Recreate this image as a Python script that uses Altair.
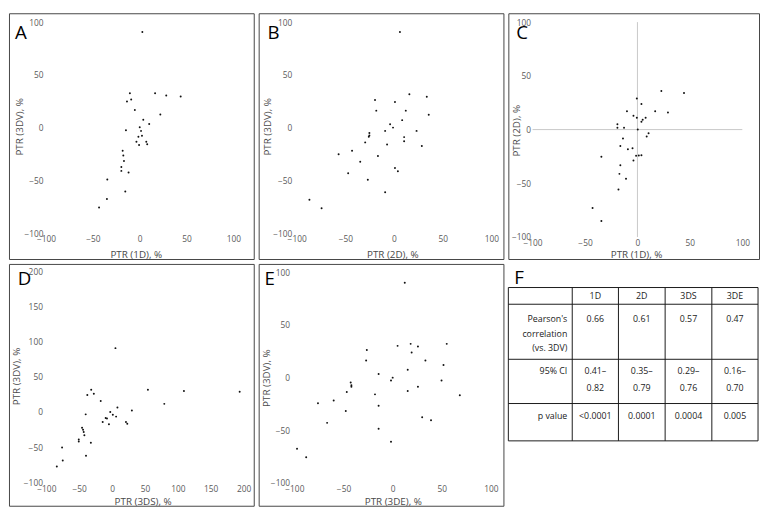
import altair as alt
import pandas as pd

# ---------------- data ----------------
# Panel A: PTR (1D) vs PTR (3DV)
a_x = [2.8, -10.5, 16.4, 28.3, 43.7, -9.1, -13.6, -5.2, 22.0, 3.8, 10.1, -14.7, 0.0, 1.4, -1.4,
       2.4, -3.5, -0.7, 7.0, 8.0, -18.2, -17.5, -16.8, -19.6, -19.6, -11.9, -34.6, -15.4, -35.0, -43.4]
a_y = [90.7, 32.6, 32.6, 30.4, 29.5, 26.7, 24.8, 16.8, 12.4, 7.5, 3.4, -2.5, 0.3, -3.1, -8.7,
       -7.8, -13.4, -16.5, -13.4, -15.8, -22.0, -26.4, -31.7, -37.3, -41.0, -42.5, -49.1, -60.6, -67.7, -75.8]

# Panel B: PTR (2D) vs PTR (3DV)
b_x = [6.1, 15.8, 33.7, -19.5, 1.0, -18.2, 12.1, 35.7, 8.4, -4.0, -1.0, -9.1, 23.2, -25.3, -25.3, -25.9,
       10.4, 10.4, -29.6, -7.1, 28.6, -56.9, -43.1, -16.5, -34.7, 1.0, 4.0, -47.1, -26.9, -9.1, -86.9, -74.4]
b_y = [90.7, 31.7, 29.2, 26.1, 24.2, 16.1, 16.1, 12.1, 7.1, 3.1, 0.0, -3.1, -3.1, -5.0, -7.5, -8.7,
       -9.0, -13.0, -14.0, -16.1, -17.4, -25.2, -22.0, -27.0, -32.3, -38.2, -41.3, -43.2, -49.4, -61.2, -68.3, -76.4]

# Panel C: PTR (1D) vs PTR (2D)
c_x = [22.8, 44.4, -0.6, 3.8, -10.0, 16.9, 29.1, -3.8, 7.8, -0.6, 5.0, 3.8, -19.1, -19.1, -12.8, 0.3, 10.6,
       8.8, -13.8, -16.3, -4.7, -9.1, 3.8, -1.3, 1.3, -34.4, -3.8, -16.3, -17.2, -10.9, -18.1, -42.8, -34.4]
c_y = [36.0, 34.1, 29.0, 23.8, 17.1, 17.1, 15.9, 12.8, 11.0, 11.0, 9.1, 7.3, 4.9, 1.8, 1.8, 0.0, -3.4,
       -6.4, -8.2, -15.2, -17.4, -18.3, -23.8, -24.4, -24.1, -25.3, -28.7, -33.2, -41.2, -45.7, -55.8, -72.9, -85.1]

# Panel D: PTR (3DS) vs PTR (3DV)
d_x = [5.1, 54.5, 109.3, 194.1, -31.8, -27.8, -37.7, -17.3, 79.4, 8.1, 30.1, -2.8, -40.2, 1.1, 6.1, -9.8,
       -7.8, 21.1, -14.3, -4.8, 23.1, -45.7, -44.2, -43.2, -42.2, -50.7, -50.7, -32.3, -76.1, -39.7, -75.1, -84.1]
d_y = [90.7, 31.6, 29.8, 28.8, 31.6, 26.0, 24.2, 15.8, 11.6, 6.5, 2.3, 0.0, -3.3, -3.7, -6.5, -8.4,
       -9.3, -14.0, -14.0, -17.2, -16.7, -22.3, -25.1, -28.4, -33.0, -39.1, -41.9, -43.7, -50.2, -61.9, -68.8, -77.2]

# Panel E: PTR (3DE) vs PTR (3DV)
e_x = [12.3, 5.0, 18.3, 25.7, 55.0, -26.3, 19.3, -27.0, 33.3, 51.7, 15.3, -14.3, 0.0, -1.7, 49.7, -42.7, -42.0,
       -42.0, 25.7, 15.3, -46.7, -18.0, 68.3, -76.0, -60.0, -14.3, -47.7, 30.0, 39.0, -66.7, -14.3, -1.7, -97.3, -88.0]
e_y = [90.3, 30.2, 32.1, 29.6, 32.1, 26.2, 24.0, 16.2, 16.2, 12.1, 7.5, 3.4, 0.0, -2.8, -2.8, -4.7, -7.2,
       -8.7, -8.7, -12.8, -13.7, -15.9, -16.8, -24.3, -21.8, -26.8, -31.8, -37.7, -40.5, -43.0, -48.6, -61.0, -67.6, -75.7]

ticks_100 = [-100, -50, 0, 50, 100]
ticks_200 = [-100, -50, 0, 50, 100, 150, 200]

# Panel F: table
table_cols = ["1D", "2D", "3DS", "3DE"]
pearson_r = ["0.66", "0.61", "0.57", "0.47"]
ci_low = ["0.41\u2013", "0.35\u2013", "0.29\u2013", "0.16\u2013"]
ci_high = ["0.82", "0.79", "0.76", "0.70"]
p_values = ["<0.0001", "0.0001", "0.0004", "0.005"]
row_labels = [["Pearson's", "correlation", "(vs. 3DV)"], ["95% CI"], ["p value"]]

# ---------------- styling / layout ----------------
FONT = "Open Sans"
DOT = "#111111"
GUIDE = "#c8c8c8"
LETTER_SIZE = 19

W1, W3 = 249, 255
H1, H2 = 250, 246


def letter_layer(letter, lx, ly):
    return alt.Chart(pd.DataFrame({"t": [letter]})).mark_text(
        align="left", baseline="alphabetic", font=FONT, fontSize=LETTER_SIZE, color="#000000"
    ).encode(x=alt.value(lx), y=alt.value(ly), text="t:N")


def scatter_panel(xv, yv, letter, xtitle, ytitle, W, H, x0, xs, y0, ys, xticks, yticks,
                  ypad, xtitle_pos, ytitle_pos, letter_pos, guides=False):
    xdom = [-x0 / xs, (W - x0) / xs]
    ydom = [(y0 - H) / ys, y0 / ys]
    x_axis_px = y0 + 100 * ys
    y_axis_px = x0 - 100 * xs
    xscale = alt.Scale(domain=xdom, nice=False, zero=False)
    yscale = alt.Scale(domain=ydom, nice=False, zero=False)
    xaxis = alt.Axis(values=xticks, offset=x_axis_px - H, labelPadding=2, title=xtitle,
                     titleX=xtitle_pos[0], titleY=xtitle_pos[1] - x_axis_px, titleBaseline="middle")
    yaxis = alt.Axis(values=yticks, offset=-y_axis_px, labelPadding=ypad, title=ytitle,
                     titleX=ytitle_pos[0] - y_axis_px, titleY=ytitle_pos[1], titleBaseline="middle")
    df = pd.DataFrame({"x": xv, "y": yv})
    pts = alt.Chart(df).mark_circle(size=4, color=DOT, opacity=1).encode(
        x=alt.X("x:Q", scale=xscale, axis=xaxis),
        y=alt.Y("y:Q", scale=yscale, axis=yaxis),
    )
    layers = []
    if guides:
        gdf = pd.DataFrame({"x": [0, -100], "x2": [0, 100], "y": [-100, 0], "y2": [100, 0]})
        rules = alt.Chart(gdf).mark_rule(color=GUIDE, strokeWidth=1).encode(
            x=alt.X("x:Q", scale=xscale, axis=xaxis), x2="x2:Q",
            y=alt.Y("y:Q", scale=yscale, axis=yaxis), y2="y2:Q",
        )
        layers.append(rules)
    layers.append(pts)
    layers.append(letter_layer(letter, *letter_pos))
    return alt.layer(*layers).properties(width=W, height=H)


pA = scatter_panel(a_x, a_y, "A", "PTR (1D), %", "PTR (3DV), %", W1, H1,
                   133.0, 0.9533, 116.33, 1.0733, ticks_100, ticks_100, 3,
                   (129, 245), (10.7, 115), (6, 26))
pB = scatter_panel(b_x, b_y, "B", "PTR (2D), %", "PTR (3DV), %", W1, H1,
                   137.67, 0.99, 116.33, 1.0733, ticks_100, ticks_100, 5,
                   (136, 245), (9.3, 115), (9, 26))
pC = scatter_panel(c_x, c_y, "C", "PTR (1D), %", "PTR (2D), %", W3, H1,
                   131.33, 1.0667, 118.33, 1.0933, ticks_100, ticks_100, 2,
                   (130, 245), (8, 119), (8, 26.5), guides=True)
pD = scatter_panel(d_x, d_y, "D", "PTR (3DS), %", "PTR (3DV), %", W1, H2,
                   104.9, 0.6686, 150.67, 0.7167, ticks_200, ticks_200, 4,
                   (136, 242), (7.3, 114), (9, 21))
pE = scatter_panel(e_x, e_y, "E", "PTR (3DE), %", "PTR (3DV), %", W1, H2,
                   136.33, 1.0, 115.67, 1.07, ticks_100, ticks_100, 5,
                   (136.5, 242), (7.7, 115.7), (6, 21))

# ---------------- table panel F ----------------
col_edges = [0, 65, 112, 159.5, 207, 254]
row_edges = [24, 41, 97, 142, 180]
label_right = 60
header_y = 33
pearson_y = [56, 71, 86]
ci_y = [109, 126]
p_y = 155

xs_t = alt.Scale(domain=[0, W3], nice=False, zero=False)
ys_t = alt.Scale(domain=[0, H2], nice=False, zero=False, reverse=True)

hlines = pd.DataFrame({"x": [col_edges[0]] * len(row_edges), "x2": [col_edges[-1]] * len(row_edges),
                       "y": row_edges, "y2": row_edges})
vlines = pd.DataFrame({"x": col_edges, "x2": col_edges,
                       "y": [row_edges[0]] * len(col_edges), "y2": [row_edges[-1]] * len(col_edges)})
grid_df = pd.concat([hlines, vlines], ignore_index=True)
grid = alt.Chart(grid_df).mark_rule(color="#1a1a1a", strokeWidth=1).encode(
    x=alt.X("x:Q", scale=xs_t, axis=None), x2="x2:Q",
    y=alt.Y("y:Q", scale=ys_t, axis=None), y2="y2:Q",
)

centers = [(col_edges[i + 1] + col_edges[i + 2]) / 2 for i in range(len(table_cols))]
val_rows = []
for i, c in enumerate(table_cols):
    cx = centers[i]
    val_rows.append({"tx": cx, "ty": header_y, "t": c})
    val_rows.append({"tx": cx, "ty": pearson_y[0], "t": pearson_r[i]})
    val_rows.append({"tx": cx, "ty": ci_y[0], "t": ci_low[i]})
    val_rows.append({"tx": cx, "ty": ci_y[1], "t": ci_high[i]})
    val_rows.append({"tx": cx, "ty": p_y, "t": p_values[i]})
lab_rows = []
for line, yy in zip(row_labels[0], pearson_y):
    lab_rows.append({"tx": label_right, "ty": yy, "t": line})
lab_rows.append({"tx": label_right, "ty": ci_y[0], "t": row_labels[1][0]})
lab_rows.append({"tx": label_right, "ty": p_y, "t": row_labels[2][0]})

vals = alt.Chart(pd.DataFrame(val_rows)).mark_text(
    align="center", baseline="middle", font=FONT, fontSize=9, color="#222222"
).encode(x=alt.X("tx:Q", scale=xs_t, axis=None), y=alt.Y("ty:Q", scale=ys_t, axis=None), text="t:N")
labs = alt.Chart(pd.DataFrame(lab_rows)).mark_text(
    align="right", baseline="middle", font=FONT, fontSize=9, color="#222222"
).encode(x=alt.X("tx:Q", scale=xs_t, axis=None), y=alt.Y("ty:Q", scale=ys_t, axis=None), text="t:N")

pF = alt.layer(grid, vals, labs, letter_layer("F", 6, 20)).properties(
    width=W3, height=H2, view=alt.ViewBackground(strokeOpacity=0)
)

row1 = alt.hconcat(pA, pB, pC, spacing=3)
row2 = alt.hconcat(pD, pE, pF, spacing=3)
chart = alt.vconcat(row1, row2, spacing=3).properties(padding=0).configure_axis(
    labelFont=FONT, labelFontSize=8.5, labelColor="#5a5a5a",
    titleFont=FONT, titleFontSize=10, titleFontWeight="normal", titleColor="#4a4a4a",
    grid=False, domain=False, ticks=False, labelFlush=False, labelOverlap=False,
    minExtent=0, maxExtent=300,
).configure_view(stroke="#444444", strokeWidth=1)

chart.save("out.html", embed_options={"renderer": "svg", "actions": False})
